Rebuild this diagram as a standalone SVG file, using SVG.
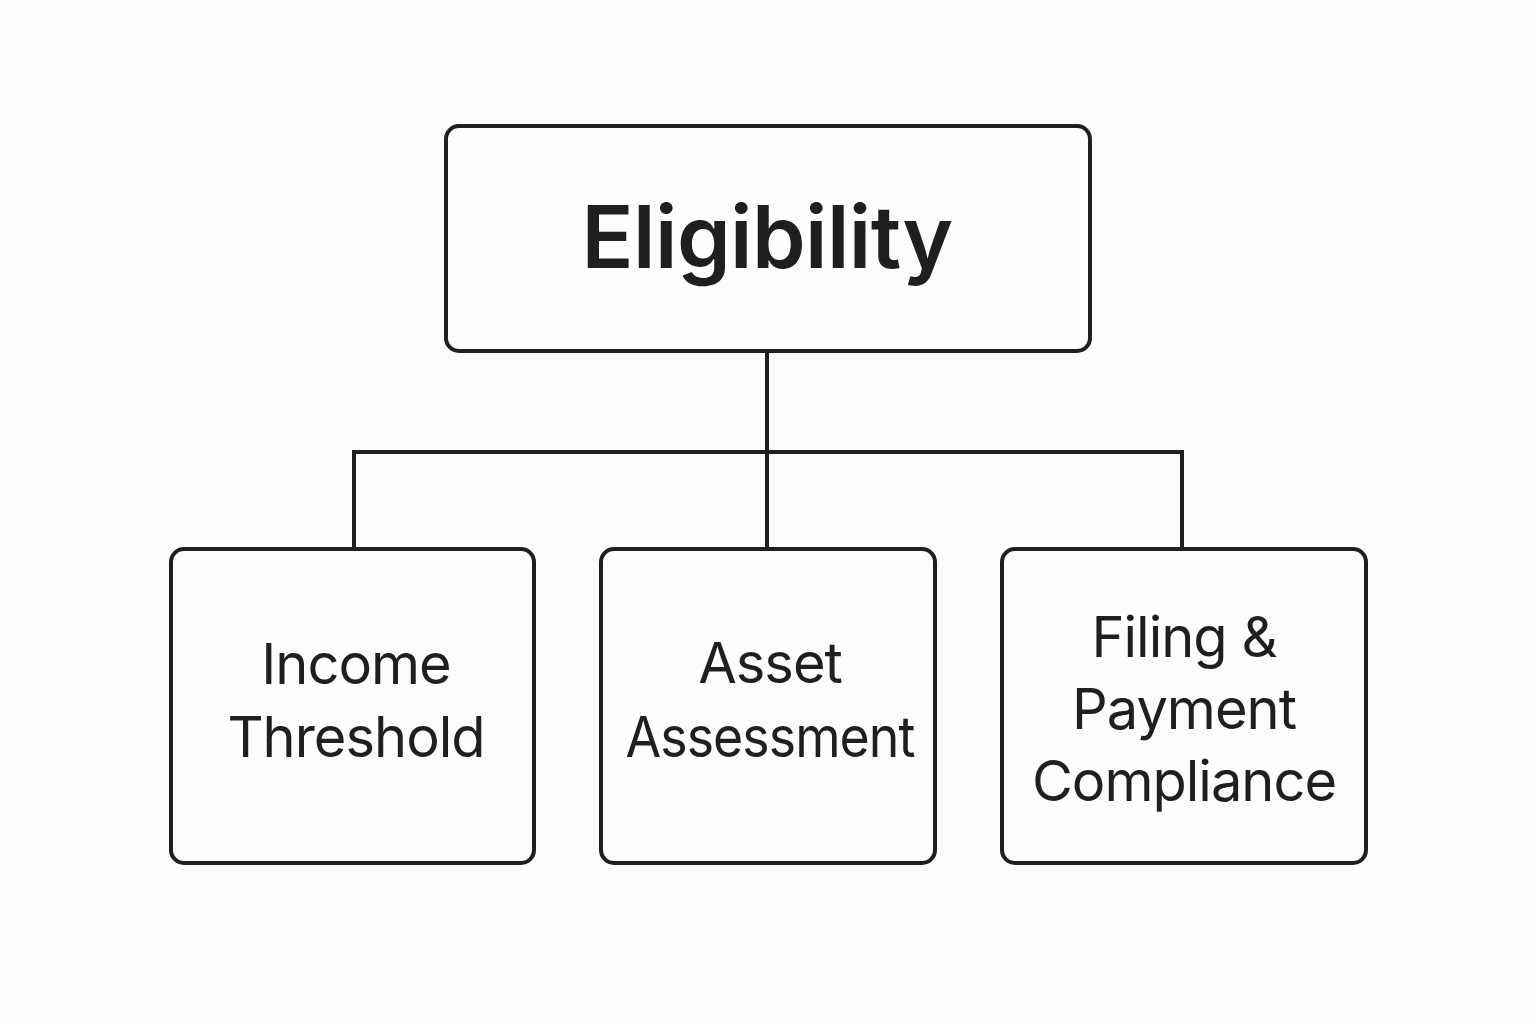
<svg xmlns="http://www.w3.org/2000/svg" width="1536" height="1024" viewBox="0 0 1536 1024">
<style>
.box{fill:#fdfdfb;stroke:#1f1f1f;stroke-width:4}
.ln{fill:none;stroke:#1f1f1f;stroke-width:4}
.t{font-family:Inter,"Liberation Sans",sans-serif;fill:#1f1f1f;text-anchor:middle}
.h{font-size:86px;font-weight:600;letter-spacing:-0.6px}
.s{font-size:56px;font-weight:400;letter-spacing:-1px}
</style>
<rect width="1536" height="1024" fill="#fcfcfa"/>
<g id="connectors">
<path class="ln" d="M767 351 V452 M354 549 V452 H1182 V549 M767 452 V549"/>
</g>
<g id="eligibility">
<rect class="box" x="446" y="126" width="644" height="225" rx="13"/>
<text class="t h" x="767" y="268">Eligibility</text>
</g>
<g id="income">
<rect class="box" x="171" y="549" width="363" height="314" rx="13"/>
<text class="t s" x="356" y="684">Income</text>
<text class="t s" x="356" y="757">Threshold</text>
</g>
<g id="asset">
<rect class="box" x="601" y="549" width="334" height="314" rx="13"/>
<text class="t s" x="770" y="683">Asset</text>
<text class="t s" x="770" y="757" textLength="289" lengthAdjust="spacingAndGlyphs">Assessment</text>
</g>
<g id="filing">
<rect class="box" x="1002" y="549" width="364" height="314" rx="13"/>
<text class="t s" x="1184" y="657">Filing &amp;</text>
<text class="t s" x="1184" y="729">Payment</text>
<text class="t s" x="1184" y="801">Compliance</text>
</g>
</svg>
